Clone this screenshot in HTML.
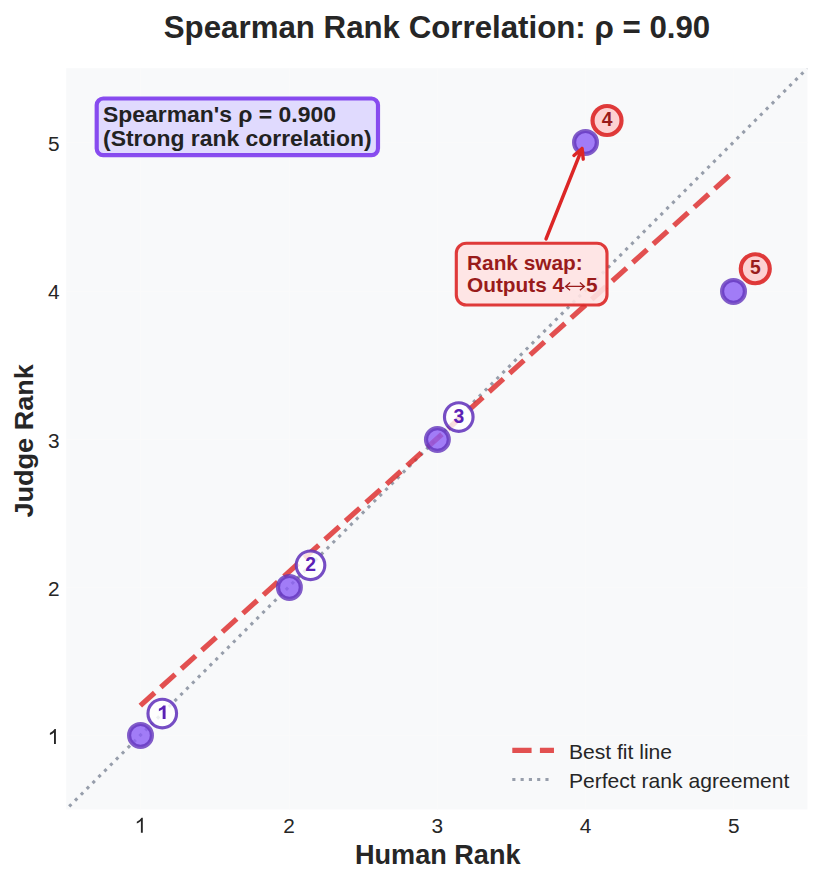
<!DOCTYPE html>
<html><head><meta charset="utf-8"><style>
html,body{margin:0;padding:0;background:#fff;overflow:hidden;}
svg{display:block;}
text{font-family:"Liberation Sans", sans-serif;}
</style></head><body>
<svg width="822" height="883" viewBox="0 0 822 883">
<rect x="0" y="0" width="822" height="883" fill="#ffffff"/>
<defs><clipPath id="ax"><rect x="66.2" y="68.2" width="741.25" height="741.25"/></clipPath></defs>
<rect x="66.20" y="68.20" width="741.25" height="741.25" fill="#f8f9fa"/>

<line x1="140.5" y1="68.20" x2="140.5" y2="809.45" stroke="#fafafa" stroke-width="1"/>
<line x1="66.20" y1="735.5" x2="807.45" y2="735.5" stroke="#fafafa" stroke-width="1"/>
<line x1="289.5" y1="68.20" x2="289.5" y2="809.45" stroke="#fafafa" stroke-width="1"/>
<line x1="66.20" y1="587.5" x2="807.45" y2="587.5" stroke="#fafafa" stroke-width="1"/>
<line x1="437.5" y1="68.20" x2="437.5" y2="809.45" stroke="#fafafa" stroke-width="1"/>
<line x1="66.20" y1="439.5" x2="807.45" y2="439.5" stroke="#fafafa" stroke-width="1"/>
<line x1="585.5" y1="68.20" x2="585.5" y2="809.45" stroke="#fafafa" stroke-width="1"/>
<line x1="66.20" y1="291.5" x2="807.45" y2="291.5" stroke="#fafafa" stroke-width="1"/>
<line x1="733.5" y1="68.20" x2="733.5" y2="809.45" stroke="#fafafa" stroke-width="1"/>
<line x1="66.20" y1="142.5" x2="807.45" y2="142.5" stroke="#fafafa" stroke-width="1"/>
<g clip-path="url(#ax)"><line x1="66.20" y1="809.45" x2="807.45" y2="68.20" stroke="#979eab" stroke-width="3.125" stroke-dasharray="3.125 5.156" stroke-dashoffset="-4.24"/></g>
<line x1="140.32" y1="705.68" x2="733.33" y2="171.98" stroke="#dc2626" stroke-opacity="0.8" stroke-width="5.208" stroke-dasharray="19.271 8.333"/>
<circle cx="140.50" cy="735.40" r="11.4" fill="#8b5cf6" fill-opacity="0.8" stroke="#6334bc" stroke-opacity="0.8" stroke-width="4.167"/>
<circle cx="289.40" cy="587.40" r="11.4" fill="#8b5cf6" fill-opacity="0.8" stroke="#6334bc" stroke-opacity="0.8" stroke-width="4.167"/>
<circle cx="437.40" cy="439.50" r="11.4" fill="#8b5cf6" fill-opacity="0.8" stroke="#6334bc" stroke-opacity="0.8" stroke-width="4.167"/>
<circle cx="585.50" cy="142.40" r="11.4" fill="#8b5cf6" fill-opacity="0.8" stroke="#6334bc" stroke-opacity="0.8" stroke-width="4.167"/>
<circle cx="733.50" cy="291.40" r="11.4" fill="#8b5cf6" fill-opacity="0.8" stroke="#6334bc" stroke-opacity="0.8" stroke-width="4.167"/>
<circle cx="162.27" cy="713.53" r="14.3" fill="#ffffff" fill-opacity="0.82" stroke="#6334bc" stroke-opacity="0.88" stroke-width="3.125"/>
<path d="M165.57,719.03 l0,-13.6 l-2.2,0 q-1.3,1.9 -4.5,3.3 l0,2.4 q2.2,-0.7 3.8,-1.8 l0,9.7 z" fill="#5b21b6"/>
<circle cx="310.52" cy="565.28" r="14.3" fill="#ffffff" fill-opacity="0.82" stroke="#6334bc" stroke-opacity="0.88" stroke-width="3.125"/>
<text transform="translate(310.52,570.88) scale(1.03,1.07)" x="0" y="0" font-size="18.75" font-weight="bold" fill="#5b21b6" text-anchor="middle">2</text>
<circle cx="458.77" cy="417.03" r="14.3" fill="#ffffff" fill-opacity="0.82" stroke="#6334bc" stroke-opacity="0.88" stroke-width="3.125"/>
<text transform="translate(458.77,422.63) scale(1.03,1.07)" x="0" y="0" font-size="18.75" font-weight="bold" fill="#5b21b6" text-anchor="middle">3</text>
<circle cx="607.03" cy="120.53" r="14.5" fill="#fecaca" fill-opacity="0.85" stroke="#dc2626" stroke-opacity="0.9" stroke-width="4.167"/>
<text transform="translate(607.03,126.13) scale(1.03,1.07)" x="0" y="0" font-size="18.75" font-weight="bold" fill="#991b1b" text-anchor="middle">4</text>
<circle cx="755.28" cy="268.78" r="14.5" fill="#fecaca" fill-opacity="0.85" stroke="#dc2626" stroke-opacity="0.9" stroke-width="4.167"/>
<text transform="translate(755.28,274.38) scale(1.03,1.07)" x="0" y="0" font-size="18.75" font-weight="bold" fill="#991b1b" text-anchor="middle">5</text>
<path d="M546,239 L582.10,148.50 M583.22,159.18 L582.10,148.50 L573.94,155.47" fill="none" stroke="#dc2626" stroke-width="3.4" stroke-linecap="round" stroke-linejoin="round"/>
<rect x="456.3" y="243.2" width="150.7" height="61.8" rx="10" ry="10" fill="#fee2e2" fill-opacity="0.9" stroke="#dc2626" stroke-opacity="0.9" stroke-width="3.125"/>
<text x="467" y="269.7" font-size="20.83" font-weight="bold" fill="#991b1b">Rank swap:</text>
<text x="467" y="291.5" font-size="20.83" font-weight="bold" fill="#991b1b">Outputs 4</text>
<text x="585.9" y="291.5" font-size="20.83" font-weight="bold" fill="#991b1b">5</text>
<path d="M565.6,286.4 L584.4,286.4 M570.1,282.6 L565.6,286.4 L570.1,290.2 M579.9,282.6 L584.4,286.4 L579.9,290.2" fill="none" stroke="#991b1b" stroke-width="1.3" stroke-linecap="butt" stroke-linejoin="miter"/>
<rect x="96.7" y="98.5" width="281.3" height="56.6" rx="6.5" ry="6.5" fill="#ddd6fe" fill-opacity="0.9" stroke="#7c3aed" stroke-opacity="0.9" stroke-width="4.167"/>
<text x="103" y="121.5" font-size="22.92" font-weight="bold" fill="#222222">Spearman's ρ = 0.900</text>
<text x="103" y="145.5" font-size="22.92" font-weight="bold" fill="#222222">(Strong rank correlation)</text>
<line x1="512.3" y1="750.45" x2="553.97" y2="750.45" stroke="#dc2626" stroke-opacity="0.8" stroke-width="5.208" stroke-dasharray="19.271 8.333"/>
<line x1="512.3" y1="779.55" x2="549.6" y2="779.55" stroke="#979eab" stroke-width="3.125" stroke-dasharray="3.125 5.156"/>
<text x="568.9" y="758.5" font-size="21.1" fill="#262626">Best fit line</text>
<text x="568.9" y="788.4" font-size="21.1" fill="#262626">Perfect rank agreement</text>
<path d="M142.80,832.70 l0,-15 l-1.3,0 q-1.3,2.2 -4.7,4.1 l0,1.8 q2.3,-0.9 4.1,-2.5 l0,11.6 z" fill="#262626"/>
<path d="M55.90,744.00 l0,-15 l-1.3,0 q-1.3,2.2 -4.7,4.1 l0,1.8 q2.3,-0.9 4.1,-2.5 l0,11.6 z" fill="#262626"/>
<text x="288.97" y="832.5" font-size="20.83" fill="#262626" text-anchor="middle">2</text>
<text x="59.7" y="595.78" font-size="20.83" fill="#262626" text-anchor="end">2</text>
<text x="437.22" y="832.5" font-size="20.83" fill="#262626" text-anchor="middle">3</text>
<text x="59.7" y="447.53" font-size="20.83" fill="#262626" text-anchor="end">3</text>
<text x="585.48" y="832.5" font-size="20.83" fill="#262626" text-anchor="middle">4</text>
<text x="59.7" y="299.28" font-size="20.83" fill="#262626" text-anchor="end">4</text>
<text x="733.73" y="832.5" font-size="20.83" fill="#262626" text-anchor="middle">5</text>
<text x="59.7" y="151.03" font-size="20.83" fill="#262626" text-anchor="end">5</text>
<text x="437.75" y="864" font-size="27.08" font-weight="bold" fill="#262626" text-anchor="middle">Human Rank</text>
<text transform="translate(32.8,440.85) rotate(-90) scale(1,0.96)" x="0" y="0" font-size="27.08" font-weight="bold" fill="#262626" text-anchor="middle">Judge Rank</text>
<text x="437" y="37.8" font-size="31.25" font-weight="bold" fill="#262626" text-anchor="middle">Spearman Rank Correlation: ρ = 0.90</text>
</svg></body></html>
